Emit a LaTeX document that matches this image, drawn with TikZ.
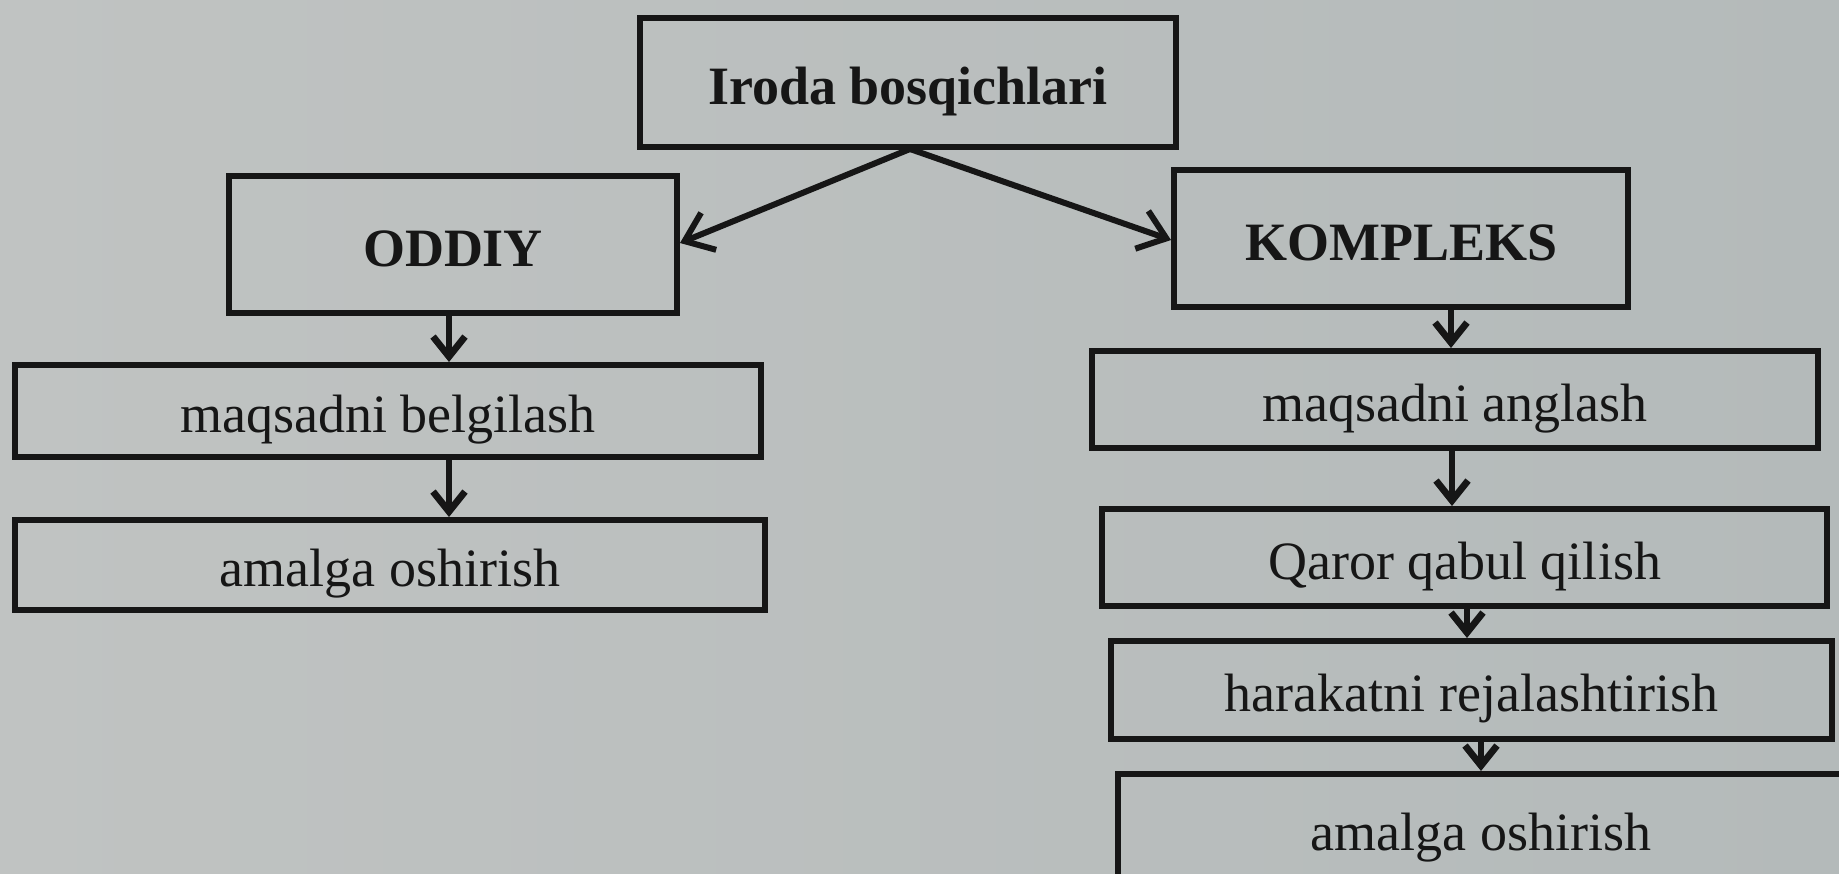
\documentclass[tikz,border=0pt]{standalone}
\usepackage{fontspec}
\setmainfont{Liberation Serif}
\usetikzlibrary{arrows.meta}
\definecolor{bgL}{RGB}{192,195,194}
\definecolor{bgR}{RGB}{180,186,186}
\definecolor{ink}{RGB}{22,22,22}
\tikzset{
  box/.style={draw=ink, line width=3pt, rectangle, inner sep=0pt, text=ink,
    text height=21.6pt, text depth=0pt,
    font=\fontsize{27}{30}\selectfont},
  headbox/.style={box, font=\fontsize{27}{30}\selectfont\bfseries},
  arr/.style={draw=ink, line width=3pt, -{Straight Barb[length=13pt,width=20pt,line width=3pt]}},
  varr/.style={draw=ink, line width=3pt, -{Straight Barb[length=10pt,width=16pt,line width=3.4pt]}},
}
\begin{document}
\begin{tikzpicture}[x=0.5pt,y=-0.5pt]
\useasboundingbox (0,0) rectangle (1839,873);
\shade[left color=bgL, right color=bgR] (0,0) rectangle (1839,873);

\node[headbox, minimum width=268pt, minimum height=64.5pt] (top) at (908,82.5) {Iroda bosqichlari};
\node[headbox, minimum width=224pt, minimum height=68.5pt] (oddiy) at (453,244.5) {ODDIY};
\node[headbox, minimum width=227pt, minimum height=68.5pt] (komp) at (1401,238.5) {KOMPLEKS};

\node[box, minimum width=373pt, minimum height=46pt] (mb) at (388,411) {maqsadni belgilash};
\node[box, minimum width=375pt, minimum height=45pt] (aol) at (390,565) {amalga oshirish};

\node[box, minimum width=363pt, minimum height=48.5pt] (ma) at (1455,399.5) {maqsadni anglash};
\node[box, minimum width=362.5pt, minimum height=48.5pt] (qq) at (1464.5,557.5) {Qaror qabul qilish};
\node[box, minimum width=360.5pt, minimum height=49pt] (hr) at (1471.5,690) {harakatni rejalashtirish};
\node[box, minimum width=363pt, minimum height=55pt] (aor) at (1481,829) {amalga oshirish};

\coordinate (apex) at (910,149);
\coordinate (xl) at (449,0);
\coordinate (xr1) at (1451,0);
\coordinate (xr2) at (1452,0);
\coordinate (xr3) at (1467,0);
\coordinate (xr4) at (1481,0);

\draw[arr] (apex) -- (oddiy.east |- 0,243);
\draw[arr] (apex) -- (komp.west |- 0,240);

\draw[varr] (oddiy.south -| xl) -- (mb.north -| xl);
\draw[varr] (mb.south -| xl) -- (aol.north -| xl);

\draw[varr] (komp.south -| xr1) -- (ma.north -| xr1);
\draw[varr] (ma.south -| xr2) -- (qq.north -| xr2);
\draw[varr] (qq.south -| xr3) -- (hr.north -| xr3);
\draw[varr] (hr.south -| xr4) -- (aor.north -| xr4);
\end{tikzpicture}
\end{document}
